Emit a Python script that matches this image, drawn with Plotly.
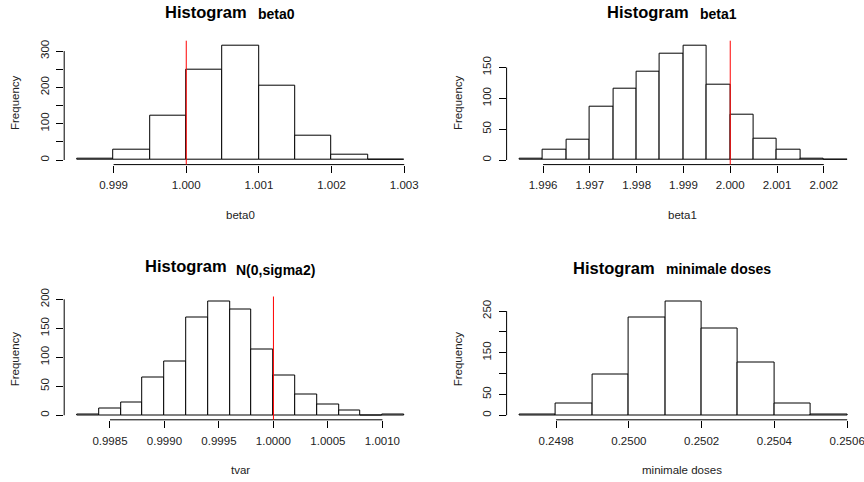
import plotly.graph_objects as go

W, H = 864, 482

# ---- data: bin edges and counts for each histogram ----
beta0_edges = [0.9985, 0.9990, 0.9995, 1.0000, 1.0005, 1.0010, 1.0015, 1.0020, 1.0025, 1.0030]
beta0_counts = [4, 29, 121, 248, 316, 205, 67, 15, 1]

beta1_edges = [1.9955, 1.9960, 1.9965, 1.9970, 1.9975, 1.9980, 1.9985, 1.9990,
               1.9995, 2.0000, 2.0005, 2.0010, 2.0015, 2.0020, 2.0025]
beta1_counts = [2, 16, 33, 86, 115, 143, 173, 186, 122, 74, 35, 17, 2, 1]

tvar_edges = [0.9982, 0.9984, 0.9986, 0.9988, 0.9990, 0.9992, 0.9994, 0.9996,
              0.9998, 1.0000, 1.0002, 1.0004, 1.0006, 1.0008, 1.0010, 1.0012]
tvar_counts = [2, 12, 22, 65, 93, 169, 197, 182, 114, 69, 36, 18, 8, 0, 1]

dose_edges = [0.2497, 0.2498, 0.2499, 0.2500, 0.2501, 0.2502, 0.2503, 0.2504, 0.2505, 0.2506]
dose_counts = [2, 28, 97, 235, 274, 209, 127, 28, 2]

# reference values marked with a vertical line
beta0_true = 1.0
beta1_true = 2.0
tvar_true = 1.0

# ---- tick positions and labels ----
beta0_xticks = [0.999, 1.000, 1.001, 1.002, 1.003]
beta0_xlabels = ["0.999", "1.000", "1.001", "1.002", "1.003"]
beta0_yticks = [0, 50, 100, 150, 200, 250, 300]
beta0_ylabels = ["0", "", "100", "", "200", "", "300"]

beta1_xticks = [1.996, 1.997, 1.998, 1.999, 2.000, 2.001, 2.002]
beta1_xlabels = ["1.996", "1.997", "1.998", "1.999", "2.000", "2.001", "2.002"]
beta1_yticks = [0, 50, 100, 150]
beta1_ylabels = ["0", "50", "100", "150"]

tvar_xticks = [0.9985, 0.9990, 0.9995, 1.0000, 1.0005, 1.0010]
tvar_xlabels = ["0.9985", "0.9990", "0.9995", "1.0000", "1.0005", "1.0010"]
tvar_yticks = [0, 50, 100, 150, 200]
tvar_ylabels = ["0", "50", "100", "150", "200"]

dose_xticks = [0.2498, 0.2500, 0.2502, 0.2504, 0.2506]
dose_xlabels = ["0.2498", "0.2500", "0.2502", "0.2504", "0.2506"]
dose_yticks = [0, 50, 100, 150, 200, 250]
dose_ylabels = ["0", "50", "", "150", "", "250"]

# ---- panel layout (pixel boxes of each plotting region) ----
panels = [
    dict(edges=beta0_edges, counts=beta0_counts, vline=beta0_true,
         xt=beta0_xticks, xl=beta0_xlabels, yt=beta0_yticks, yl=beta0_ylabels,
         box=(64.2, 417.3, 40.7, 164.6), name="beta0", xlab="beta0",
         tpos=(163, 11.6, 256, 13.5), xlab_pos=(240, 215), ylab_pos=(15, 103)),
    dict(edges=beta1_edges, counts=beta1_counts, vline=beta1_true,
         xt=beta1_xticks, xl=beta1_xlabels, yt=beta1_yticks, yl=beta1_ylabels,
         box=(506.6, 860.3, 40.7, 164.6), name="beta1", xlab="beta1",
         tpos=(604.7, 11.6, 697.7, 13.5), xlab_pos=(682.7, 215), ylab_pos=(458, 103)),
    dict(edges=tvar_edges, counts=tvar_counts, vline=tvar_true,
         xt=tvar_xticks, xl=tvar_xlabels, yt=tvar_yticks, yl=tvar_ylabels,
         box=(64.2, 417.3, 296.5, 419.8), name="N(0,sigma2)", xlab="tvar",
         tpos=(142.7, 266, 234.3, 269.5), xlab_pos=(240, 470), ylab_pos=(15, 359.3)),
    dict(edges=dose_edges, counts=dose_counts, vline=None,
         xt=dose_xticks, xl=dose_xlabels, yt=dose_yticks, yl=dose_ylabels,
         box=(506.6, 860.3, 296.5, 419.8), name="minimale doses", xlab="minimale doses",
         tpos=(571.3, 267.6, 663.7, 268.5), xlab_pos=(682, 470), ylab_pos=(458, 359.3)),
]

FONT = "Liberation Sans, Arial, sans-serif"
TXT = "#222222"


def px(x):
    return x / W


def py(y):
    return 1 - y / H


fig = go.Figure()
shapes = []
annotations = []

for i, p in enumerate(panels, start=1):
    xa = "x" if i == 1 else f"x{i}"
    ya = "y" if i == 1 else f"y{i}"
    edges, counts = p["edges"], p["counts"]
    lefts = edges[:-1]
    rights = edges[1:]
    centers = [(a + b) / 2 for a, b in zip(lefts, rights)]
    widths = [b - a for a, b in zip(lefts, rights)]

    fig.add_trace(go.Bar(
        x=centers, y=counts, width=widths, xaxis=xa, yaxis=ya,
        marker=dict(color="white", line=dict(color="black", width=1)),
        showlegend=False, hoverinfo="x+y",
    ))

    # R-style axis ranges: data extent padded by 4 %
    lo, hi = edges[0], edges[-1]
    xr = [lo - 0.04 * (hi - lo), hi + 0.04 * (hi - lo)]
    ymax = max(counts)
    yr = [-0.04 * ymax, 1.04 * ymax]

    x0, x1, y0, y1 = p["box"]
    axis_common = dict(
        showgrid=False, zeroline=False, showline=False,
        ticks="outside", ticklen=7, tickwidth=1, tickcolor="black",
        tickfont=dict(family=FONT, size=11.5, color=TXT),
        tickmode="array", automargin=False, ticklabeloverflow="allow",
    )
    fig.update_layout(**{
        ("xaxis" if i == 1 else f"xaxis{i}"): dict(
            axis_common, domain=[px(x0), px(x1)], range=xr,
            tickvals=p["xt"], ticktext=p["xl"], anchor=ya,
            ticklabelstandoff=3,
        ),
        ("yaxis" if i == 1 else f"yaxis{i}"): dict(
            axis_common, domain=[py(y1), py(y0)], range=yr,
            tickvals=p["yt"], ticktext=p["yl"], anchor=xa,
            tickangle=-90, ticklabelstandoff=3,
        ),
    })

    xd = f"{xa} domain"
    yd = f"{ya} domain"
    # axis lines spanning first to last tick
    shapes.append(dict(type="line", xref=xa, yref=yd, x0=p["xt"][0], x1=p["xt"][-1],
                       y0=0, y1=0, line=dict(color="black", width=1)))
    shapes.append(dict(type="line", xref=xd, yref=ya, x0=0, x1=0,
                       y0=p["yt"][0], y1=p["yt"][-1], line=dict(color="black", width=1)))
    if p["vline"] is not None:
        shapes.append(dict(type="line", xref=xa, yref=yd, x0=p["vline"], x1=p["vline"],
                           y0=0, y1=1, line=dict(color="red", width=1)))

    tx1, ty1, tx2, ty2 = p["tpos"]
    annotations.append(dict(text="<b>Histogram</b>", xref="paper", yref="paper",
                            x=px(tx1), y=py(ty1), xanchor="left", yanchor="middle",
                            showarrow=False, font=dict(family=FONT, size=16.5, color="black")))
    annotations.append(dict(text=f"<b>{p['name']}</b>", xref="paper", yref="paper",
                            x=px(tx2), y=py(ty2), xanchor="left", yanchor="middle",
                            showarrow=False, font=dict(family=FONT, size=14, color="black")))
    lx, ly = p["xlab_pos"]
    annotations.append(dict(text=p["xlab"], xref="paper", yref="paper",
                            x=px(lx), y=py(ly), xanchor="center", yanchor="middle",
                            showarrow=False, font=dict(family=FONT, size=11.5, color=TXT)))
    fx, fy = p["ylab_pos"]
    annotations.append(dict(text="Frequency", xref="paper", yref="paper",
                            x=px(fx), y=py(fy), xanchor="center", yanchor="middle",
                            textangle=-90, showarrow=False,
                            font=dict(family=FONT, size=11.5, color=TXT)))

fig.update_layout(
    width=W, height=H, margin=dict(l=0, r=0, t=0, b=0),
    paper_bgcolor="white", plot_bgcolor="white",
    bargap=0, shapes=shapes, annotations=annotations,
    font=dict(family=FONT),
)

fig.write_html("out.html")
